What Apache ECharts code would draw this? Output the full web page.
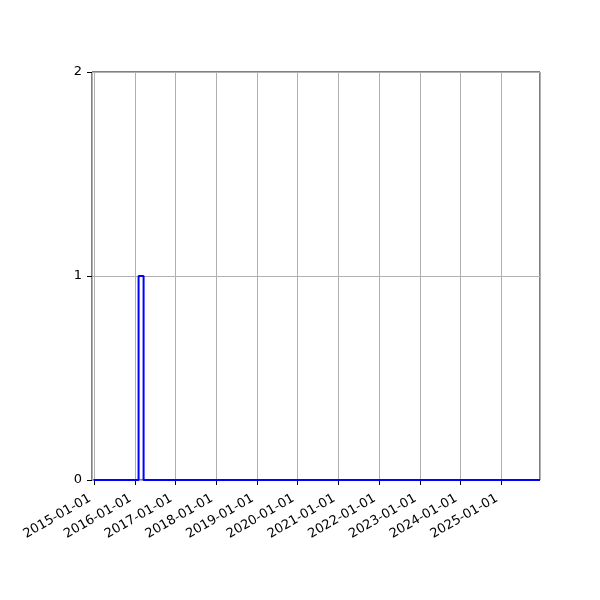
<!DOCTYPE html>
<html>
<head>
<meta charset="utf-8">
<script src="https://cdn.jsdelivr.net/npm/echarts@6/dist/echarts.min.js"></script>
<style>
  html, body { margin: 0; padding: 0; background: #fff; }
  #chart { width: 600px; height: 600px; }
</style>
</head>
<body>
<div id="chart"></div>
<script>
// histogram bin edges and counts (step outline)
const binEdges = ["2014-12-28", "2016-02-03", "2016-03-19", "2025-12-15"];
const counts = [0, 1, 0];
const xMin = "2014-12-12";
const xMax = "2025-12-15";
const yTicks = [0, 1, 2];

const stepData = binEdges.map((e, i) => [e, counts[Math.min(i, counts.length - 1)]]);

const YEAR = 365 * 24 * 3600 * 1000;
const chart = echarts.init(document.getElementById("chart"));
chart.setOption({
  animation: false,
  grid: {
    left: 92, right: 60, top: 72, bottom: 120,
    show: true, borderColor: "#000", borderWidth: 1
  },
  xAxis: {
    type: "time",
    min: xMin,
    max: xMax,
    minInterval: YEAR,
    maxInterval: YEAR * 1.01,
    axisLine: { show: false },
    axisTick: { show: true, length: 5, inside: false, lineStyle: { color: "#000" } },
    splitLine: { show: true, lineStyle: { color: "#b0b0b0", width: 1 } },
    minorTick: { show: false },
    axisLabel: {
      rotate: 30,
      fontFamily: "DejaVu Sans",
      fontSize: 13,
      color: "#000",
      margin: 15,
      padding: [0, 5, 0, 0],
      showMinLabel: false,
      showMaxLabel: false,
      hideOverlap: false,
      formatter: (v) => echarts.time.format(v, "{yyyy}-{MM}-{dd}", false)
    }
  },
  yAxis: {
    type: "value",
    min: yTicks[0],
    max: yTicks[yTicks.length - 1],
    interval: 1,
    axisLine: { show: false },
    axisTick: { show: true, length: 5, lineStyle: { color: "#000" } },
    splitLine: { show: true, lineStyle: { color: "#b0b0b0", width: 1 } },
    axisLabel: { fontFamily: "DejaVu Sans", fontSize: 13, color: "#000", margin: 10 }
  },
  series: [{
    type: "line",
    step: "end",
    data: stepData,
    showSymbol: false,
    lineStyle: { color: "#0000ff", width: 2 },
    z: 5
  }]
});
</script>
</body>
</html>
